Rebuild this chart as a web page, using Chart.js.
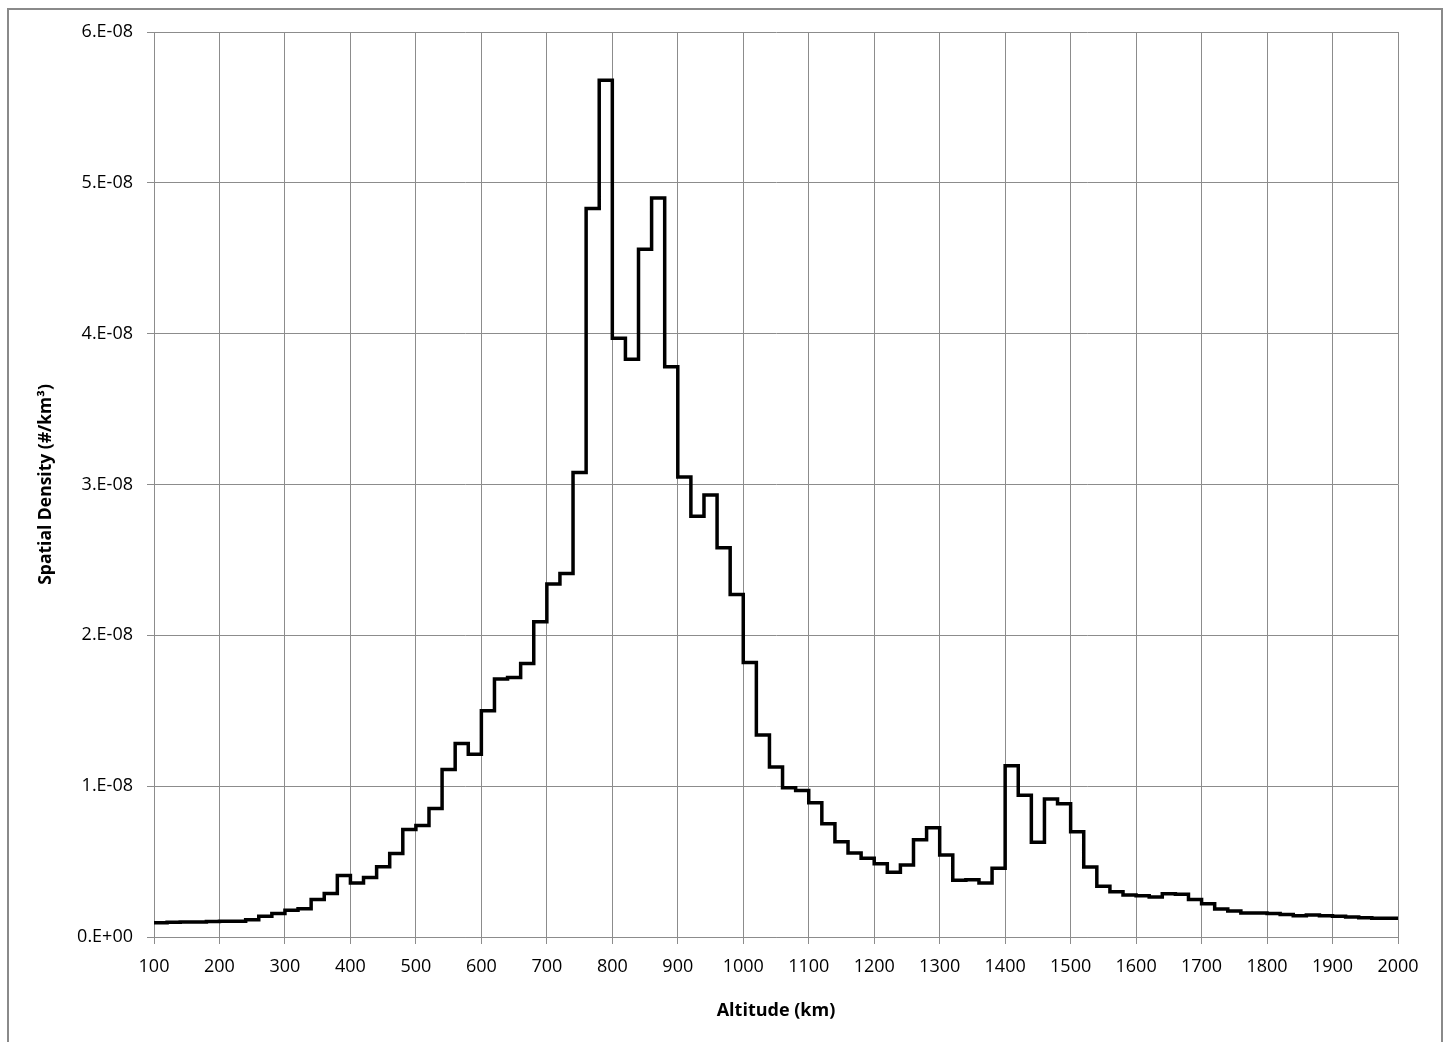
<!DOCTYPE html>
<html>
<head>
<meta charset="utf-8">
<script src="https://cdn.jsdelivr.net/npm/chart.js@4.4.1/dist/chart.umd.min.js"></script>
<style>
  html, body { margin: 0; padding: 0; background: #fff; overflow: hidden; }
  #frame { position: absolute; left: 7px; top: 8px; width: 1432px; height: 1100px; border: 2px solid #8a8a8a; }
  canvas { position: absolute; left: 0; top: 0; }
</style>
</head>
<body>
<div id="frame"></div>
<canvas id="chart" width="1445" height="1042"></canvas>
<script>
// bin start altitudes (km), 20 km bins
const altitudes = [100, 120, 140, 160, 180, 200, 220, 240, 260, 280,
  300, 320, 340, 360, 380, 400, 420, 440, 460, 480,
  500, 520, 540, 560, 580, 600, 620, 640, 660, 680,
  700, 720, 740, 760, 780, 800, 820, 840, 860, 880,
  900, 920, 940, 960, 980, 1000, 1020, 1040, 1060, 1080,
  1100, 1120, 1140, 1160, 1180, 1200, 1220, 1240, 1260, 1280,
  1300, 1320, 1340, 1360, 1380, 1400, 1420, 1440, 1460, 1480,
  1500, 1520, 1540, 1560, 1580, 1600, 1620, 1640, 1660, 1680,
  1700, 1720, 1740, 1760, 1780, 1800, 1820, 1840, 1860, 1880,
  1900, 1920, 1940, 1960, 1980]
const lastEdge = 2000

// spatial density in units of 1e-8 #/km3
const densityE8 = [0.095, 0.097, 0.099, 0.100, 0.102, 0.104, 0.105, 0.115, 0.137, 0.155,
  0.177, 0.188, 0.248, 0.288, 0.407, 0.358, 0.394, 0.465, 0.553, 0.712,
  0.739, 0.852, 1.11, 1.283, 1.212, 1.50, 1.71, 1.72, 1.813, 2.09,
  2.34, 2.41, 3.08, 4.83, 5.68, 3.97, 3.83, 4.56, 4.90, 3.78,
  3.05, 2.79, 2.93, 2.58, 2.27, 1.82, 1.34, 1.127, 0.99, 0.972,
  0.89, 0.751, 0.632, 0.557, 0.522, 0.486, 0.429, 0.477, 0.645, 0.725,
  0.544, 0.376, 0.38, 0.358, 0.455, 1.136, 0.939, 0.628, 0.915, 0.884,
  0.697, 0.464, 0.336, 0.30, 0.278, 0.274, 0.265, 0.287, 0.283, 0.248,
  0.221, 0.186, 0.172, 0.159, 0.159, 0.155, 0.150, 0.141, 0.146, 0.141,
  0.137, 0.133, 0.128, 0.124, 0.124]

const yTickLabels = ['0.E+00', '1.E-08', '2.E-08', '3.E-08', '4.E-08', '5.E-08', '6.E-08']

// each bin holds its value from its start edge to the next edge
const points = altitudes.map((a, i) => ({ x: a, y: densityE8[i] * 1e-8 }))
points.push({ x: lastEdge, y: densityE8[densityE8.length - 1] * 1e-8 })

const gridGray = '#8c8c8c'
const tickFont = { family: 'Open Sans', size: 18 }
const titleFont = { family: 'Open Sans', size: 18, weight: 'bold' }

const stepChart = new Chart(document.getElementById('chart'), {
  type: 'line',
  data: {
    datasets: [{
      data: points,
      borderColor: '#000',
      borderWidth: 3.5,
      stepped: 'before',
      pointRadius: 0,
      fill: false,
      borderJoinStyle: 'miter'
    }]
  },
  options: {
    responsive: false,
    animation: false,
    layout: {
      padding: { left: 0, top: 32, right: 47, bottom: 0 }
    },
    plugins: {
      legend: { display: false },
      tooltip: { enabled: false }
    },
    scales: {
      x: {
        type: 'linear',
        min: 100,
        max: 2000,
        afterFit: (s) => { s.height = 105 },
        border: { color: gridGray, width: 1 },
        grid: { color: gridGray, lineWidth: 1, tickLength: 7 },
        ticks: {
          stepSize: 100,
          color: '#000',
          font: tickFont,
          padding: 12,
          maxRotation: 0,
          callback: (v) => String(v)
        },
        title: {
          display: true,
          text: 'Altitude (km)',
          color: '#000',
          font: titleFont,
          padding: { top: 0, bottom: 20 }
        }
      },
      y: {
        min: 0,
        max: 6e-8,
        afterFit: (s) => { s.width = 154 },
        border: { color: gridGray, width: 1 },
        grid: { color: gridGray, lineWidth: 1, tickLength: 7 },
        ticks: {
          stepSize: 1e-8,
          color: '#000',
          font: tickFont,
          padding: 14,
          callback: (v, i) => yTickLabels[i]
        },
        title: {
          display: true,
          text: 'Spatial Density (#/km³)',
          color: '#000',
          font: { family: 'Open Sans', size: 17.5, weight: 'bold' },
          padding: { top: 36, bottom: 0 }
        }
      }
    }
  }
});
</script>
</body>
</html>
